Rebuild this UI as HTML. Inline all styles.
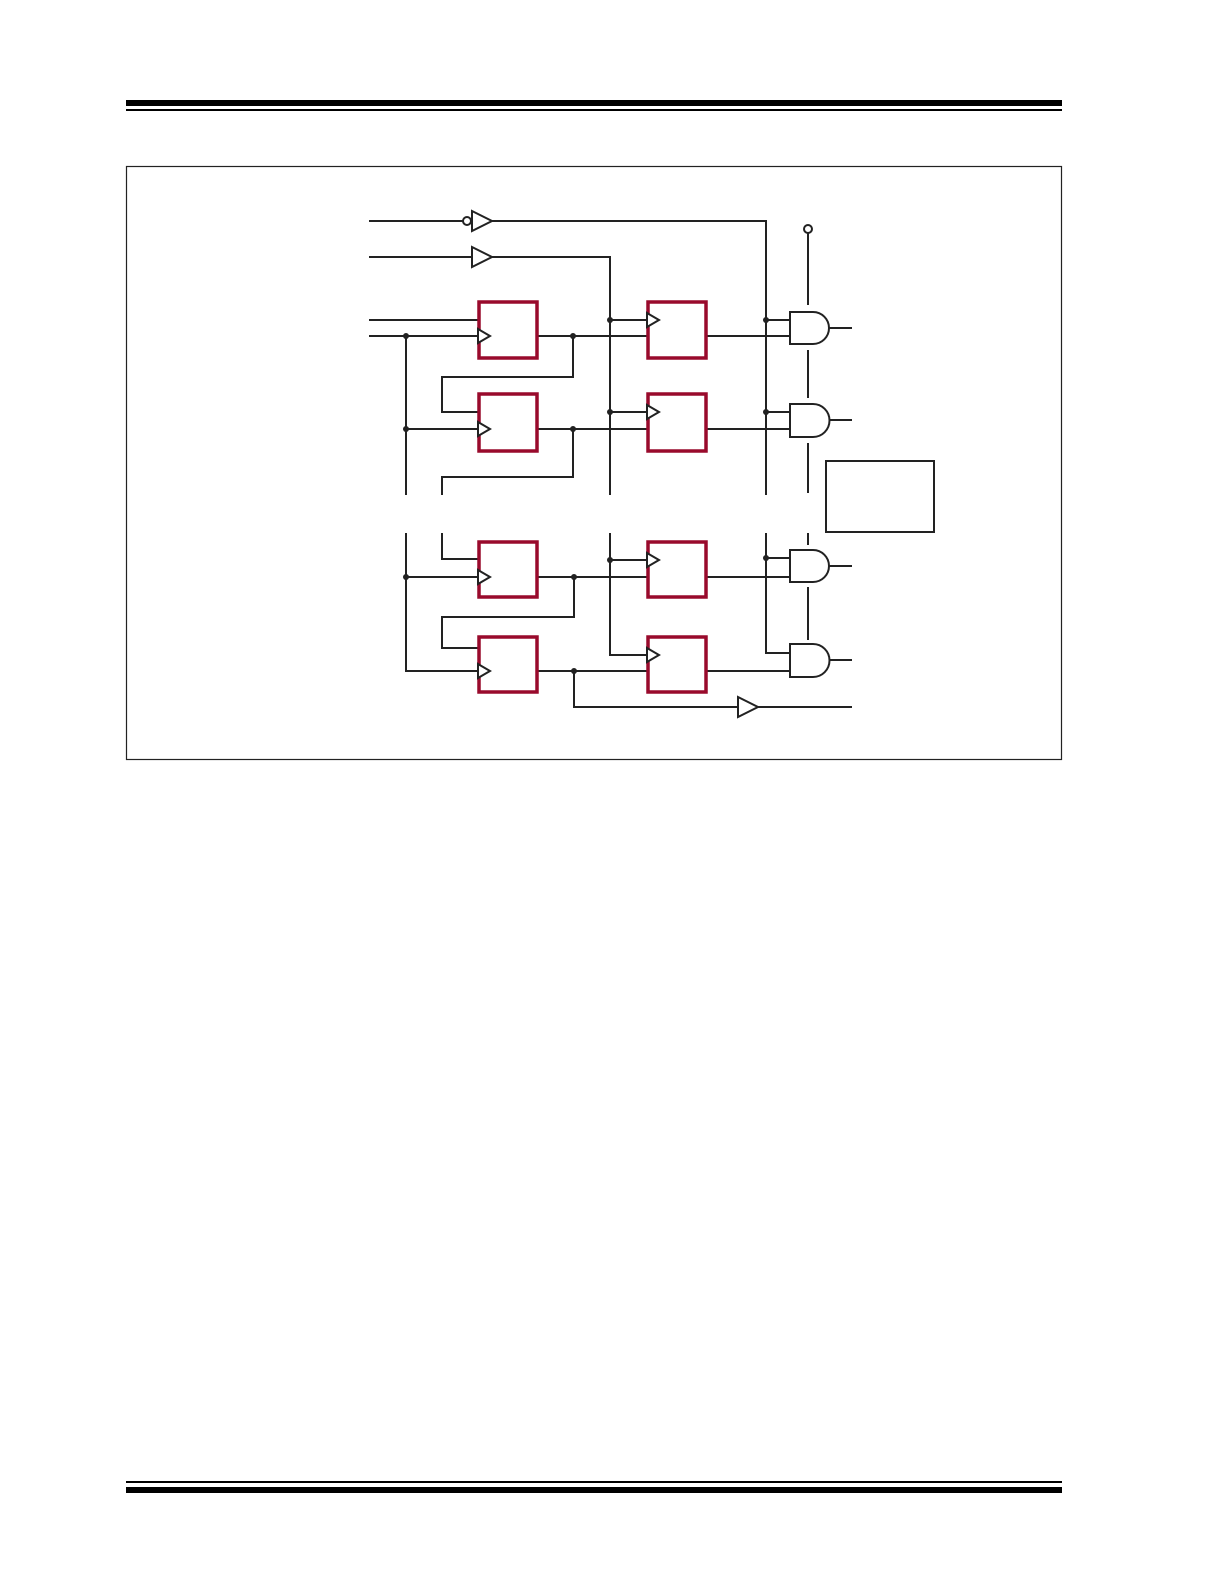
<!DOCTYPE html>
<html><head><meta charset="utf-8"><style>html,body{margin:0;padding:0;background:#fff}svg{display:block}</style></head>
<body>
<svg width="1224" height="1584" viewBox="0 0 1224 1584" xmlns="http://www.w3.org/2000/svg">
<rect x="126" y="100" width="936" height="6" fill="#000"/>
<rect x="126" y="109" width="936" height="2" fill="#000"/>
<rect x="126" y="1481" width="936" height="2" fill="#000"/>
<rect x="126" y="1487" width="936" height="6" fill="#000"/>
<rect x="126.5" y="166.5" width="935" height="593" fill="none" stroke="#222" stroke-width="1.2"/>
<g fill="none" stroke="#222" stroke-width="2">
<!-- inputs -->
<path d="M369 221H463"/><circle cx="467" cy="221" r="4" fill="#fff"/>
<path d="M472 211L492 221L472 231Z" fill="#fff"/>
<path d="M492 221H766V495"/>
<path d="M369 257H472"/><path d="M472 247L492 257L472 267Z" fill="#fff"/>
<path d="M492 257H610V495"/>
<path d="M369 320H478M369 336H478"/>
<path d="M406 336V495M406 429H478"/>
<path d="M538 336H647M573 336V377H442V412H478"/>
<path d="M538 429H647M573 429V477H442V495"/>
<path d="M610 320H647M610 412H647"/>
<path d="M707 336H790M707 429H790"/>
<path d="M766 320H790M766 412H790"/>
<path d="M808 233V305M808 350V398M808 443V493"/>
<!-- lower -->
<path d="M406 533V671H478M406 577H478"/>
<path d="M442 533V559H478"/>
<path d="M538 577H647M574 577V617H442V648H478"/>
<path d="M538 671H647M574 671V707H738"/>
<path d="M758 707H852"/>
<path d="M610 533V655H647M610 560H647"/>
<path d="M707 577H790M707 671H790"/>
<path d="M766 533V653H790M766 558H790"/>
<path d="M808 533V545M808 587V640"/>
<!-- buffer -->
<path d="M738 697L758 707L738 717Z" fill="#fff"/>
<!-- gates -->
<path d="M790 312H813A16 16 0 0 1 813 344H790Z" fill="#fff"/><path d="M829 328H852"/>
<path d="M790 404H813A16.5 16.5 0 0 1 813 437H790Z" fill="#fff"/><path d="M829 420H852"/>
<path d="M790 550H813A16 16 0 0 1 813 582H790Z" fill="#fff"/><path d="M829 566H852"/>
<path d="M790 644H813A16.5 16.5 0 0 1 813 677H790Z" fill="#fff"/><path d="M829 660H852"/>
<circle cx="808" cy="229" r="4" fill="#fff"/>
<rect x="826" y="461" width="108" height="71"/>
</g>
<g fill="#222">
<circle cx="406" cy="336" r="3"/><circle cx="406" cy="429" r="3"/>
<circle cx="573" cy="336" r="3"/><circle cx="573" cy="429" r="3"/>
<circle cx="610" cy="320" r="3"/><circle cx="610" cy="412" r="3"/>
<circle cx="766" cy="320" r="3"/><circle cx="766" cy="412" r="3"/>
<circle cx="406" cy="577" r="3"/><circle cx="574" cy="577" r="3"/><circle cx="574" cy="671" r="3"/>
<circle cx="610" cy="560" r="3"/><circle cx="766" cy="558" r="3"/>
</g>
<g fill="#fff" stroke="#990a2c" stroke-width="3.5">
<rect x="479" y="302" width="58" height="56"/>
<rect x="648" y="302" width="58" height="56"/>
<rect x="479" y="394" width="58" height="57"/>
<rect x="648" y="394" width="58" height="57"/>
<rect x="479" y="542" width="58" height="55"/>
<rect x="648" y="542" width="58" height="55"/>
<rect x="479" y="637" width="58" height="55"/>
<rect x="648" y="637" width="58" height="55"/>
</g>
<g fill="#fff" stroke="#222" stroke-width="2">
<path d="M478 329L490 336L478 343Z"/><path d="M478 422L490 429L478 436Z"/>
<path d="M478 570L490 577L478 584Z"/><path d="M478 664L490 671L478 678Z"/>
<path d="M647 313L659 320L647 327Z"/><path d="M647 405L659 412L647 419Z"/>
<path d="M647 553L659 560L647 567Z"/><path d="M647 648L659 655L647 662Z"/>
</g>
</svg>
</body></html>
